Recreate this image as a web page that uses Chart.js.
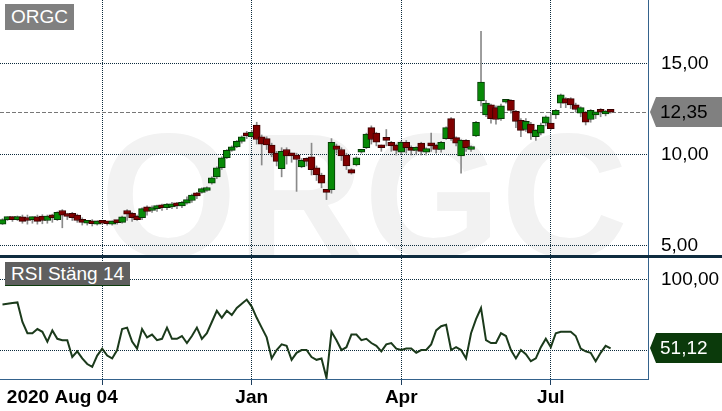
<!DOCTYPE html>
<html>
<head>
<meta charset="utf-8">
<script src="https://cdn.jsdelivr.net/npm/chart.js@4.4.1/dist/chart.umd.min.js"></script>
<style>
  body { margin: 0; background: #fff; font-family: "Liberation Sans", Arial, sans-serif; }
  #wrap { position: relative; width: 722px; height: 411px; overflow: hidden; }
  #top { position: absolute; left: 0; top: 0; width: 722px; height: 255px; border-bottom: 3px solid #0e2c3f; }
  #bot { position: absolute; left: 0; top: 258px; width: 722px; height: 153px; }
  .box { position: absolute; color: #fff; font-size: 19px; line-height: 26px; padding: 0 6px; white-space: nowrap; }
</style>
</head>
<body>
<div id="wrap">
  <div id="top"><canvas id="price" width="722" height="255"></canvas></div>
  <div id="bot"><canvas id="rsi" width="722" height="153"></canvas></div>
  <div class="box" style="left:5px;top:4px;background:#808080;">ORGC</div>
  <div class="box" style="left:5px;top:262px;line-height:23px;background:#5f5f5f;border-bottom:1px solid #0b3b0b;">RSI Stäng 14</div>
</div>
<script>
// one slot ~ two trading days
const slots = Array.from({length: 130}, (_, i) => i);

const open = [
  6.20,6.45,6.55,6.45,6.60,6.55,6.45,6.60,6.65,6.40,
  6.68,6.45,6.95,6.75,6.80,6.70,6.45,6.25,6.35,6.20,
  6.35,6.33,6.20,6.35,6.30,6.95,6.80,6.65,6.55,7.15,
  6.95,7.05,7.25,7.10,7.15,7.35,7.20,7.35,7.50,7.90,
  7.95,8.05,8.45,8.80,9.30,9.85,10.25,10.45,10.75,11.20,
  11.00,11.65,11.00,10.90,10.55,10.10,9.25,10.30,10.05,10.00,
  9.35,9.80,9.90,9.30,8.90,8.05,8.10,10.50,10.30,10.00,
  9.20,9.45,10.15,10.40,11.50,11.20,10.50,10.90,10.70,10.55,
  10.15,10.70,10.35,10.25,10.65,10.15,10.60,10.55,10.30,10.90,
  12.00,10.95,9.95,10.80,10.30,11.05,12.97,12.20,12.75,12.60,
  12.00,12.90,13.00,12.40,11.90,11.40,11.70,11.00,11.20,11.75,
  11.75,12.20,12.85,13.10,13.10,12.75,12.30,12.35,11.95,12.20,
  12.50,12.25,12.42
];
const high = [
  6.50,6.60,6.62,6.65,6.70,6.70,6.60,6.70,6.72,6.70,
  6.75,6.88,7.00,6.80,6.85,6.75,6.55,6.40,6.45,6.40,
  6.40,6.35,6.40,6.40,6.65,7.00,6.85,6.70,7.10,7.20,
  7.20,7.25,7.30,7.35,7.40,7.40,7.45,7.70,7.85,7.95,
  8.20,8.25,8.80,9.35,9.90,10.30,10.50,10.80,11.05,11.30,
  11.35,11.80,11.10,11.00,10.65,10.20,10.40,10.40,10.10,10.10,
  9.80,9.85,10.65,9.40,9.00,8.10,10.90,10.60,10.40,10.10,
  9.25,9.90,10.25,11.20,11.60,11.25,10.55,11.40,10.75,10.60,
  10.75,10.80,10.50,10.45,10.70,10.40,11.20,10.60,10.75,11.55,
  12.05,11.00,10.85,10.85,10.50,11.85,16.80,13.00,12.80,12.70,
  12.80,13.05,13.05,12.45,12.00,12.00,11.80,11.40,11.75,12.15,
  12.30,12.50,13.35,13.15,13.15,12.85,12.65,12.40,12.50,12.35,
  12.55,12.45,12.45
];
const low = [
  6.18,6.40,6.35,6.40,6.25,6.20,6.25,6.20,6.22,6.25,
  6.30,6.40,6.00,6.45,6.40,6.30,6.15,6.15,6.10,6.15,
  6.20,6.15,6.15,6.20,6.25,6.40,6.35,6.40,6.45,6.70,
  6.85,6.90,6.95,7.00,7.05,7.05,7.10,7.30,7.40,7.60,
  7.90,8.00,8.40,8.70,9.20,9.80,10.20,10.40,10.65,10.90,
  10.95,10.60,9.45,10.30,9.90,9.40,8.80,9.50,9.60,8.00,
  9.30,9.40,8.90,8.60,8.20,7.55,7.90,10.10,9.70,9.20,
  8.95,9.40,10.10,10.35,10.60,10.50,10.20,10.50,10.20,10.00,
  10.05,10.10,10.00,10.05,10.00,10.00,10.20,10.10,10.15,10.85,
  10.80,10.50,9.00,10.20,10.20,11.00,12.70,12.10,11.75,11.70,
  11.90,12.85,12.30,11.50,11.00,11.30,10.85,10.80,11.10,11.60,
  11.40,12.00,12.60,12.60,12.55,12.35,12.10,11.65,11.80,12.00,
  12.10,12.15,12.30
];
const close = [
  6.45,6.55,6.45,6.55,6.35,6.40,6.55,6.35,6.40,6.65,
  6.55,6.85,6.70,6.62,6.55,6.40,6.30,6.35,6.22,6.35,
  6.25,6.22,6.32,6.28,6.60,6.75,6.55,6.45,7.05,6.90,
  7.10,7.20,7.10,7.30,7.30,7.20,7.40,7.55,7.80,7.75,
  8.15,8.20,8.75,9.30,9.85,10.25,10.45,10.75,11.00,11.05,
  11.25,10.85,10.60,10.55,10.10,9.65,10.20,9.95,9.95,9.75,
  9.70,9.65,9.20,8.90,8.45,7.95,10.70,10.30,9.95,9.40,
  9.00,9.85,10.20,11.15,10.85,10.70,10.40,10.80,10.50,10.25,
  10.70,10.40,10.25,10.30,10.20,10.35,10.50,10.30,10.70,11.50,
  10.90,10.65,10.80,10.40,10.45,11.80,14.00,12.85,12.00,11.95,
  12.70,13.00,12.45,11.85,11.35,11.85,11.20,11.35,11.65,12.10,
  11.45,12.45,13.30,12.85,12.75,12.50,12.60,11.80,12.45,12.30,
  12.35,12.40,12.35
];
const rsi = [
  82.5,83,83.5,84,70,62,62,65,63,56,
  64,58,57,57,45,49,44,40,38,46,
  51,46,44,50,65,66,56,51,65,59,
  61,57,58,66,58,58,60,55,60,66,
  58,62,70,78,73,78,75,80,83,86,
  81,73,66,59,44,50,54,53,43,48,
  50,50,45,43,44,30,63,57,50,52,
  61,61,57,58,55,53,49,54,55,51,
  50,51,51,48,50,50,54,64,67,68,
  50,52,50,44,62,72,80,57,55,55,
  62,60,50,44,50,47,42,44,52,58,
  52,62,63,63,63,60,51,49,48,42,
  48,53,51.12
];

const priceTicks = [5, 10, 15];
const rsiTicks = [50, 100];
const gridIdx = [20, 50, 80, 110];
const labelIdx = [12, 50, 80, 110];
const labelText = ['2020 Aug 04', 'Jan', 'Apr', 'Jul'];

const UP = '#078a07', UP_EDGE = '#063806';
const DN = '#800000', DN_EDGE = '#3a0000';
const WICK = '#8a8a8a', GRID = '#0c2b3d', FRAME = '#34628c';
const FONT = '"Liberation Sans", Arial, sans-serif';

Chart.defaults.font.family = FONT;

const fmt = v => v.toFixed(2).replace('.', ',');
const isUp = i => close[i] >= open[i];

function xAxis(withLabels, height) {
  const idx = withLabels ? [...new Set([...labelIdx, ...gridIdx])].sort((a, b) => a - b) : gridIdx;
  return {
    type: 'category',
    offset: true,
    afterBuildTicks: s => { s.ticks = idx.map(v => ({value: v})); },
    afterFit: s => { s.height = height; s.paddingLeft = 0; s.paddingRight = 0; },
    grid: {
      offset: false,
      color: c => gridIdx.includes(c.tick && c.tick.value) ? GRID : 'rgba(0,0,0,0)',
      tickColor: c => gridIdx.includes(c.tick && c.tick.value) ? '#1d3f5f' : 'rgba(0,0,0,0)',
      lineWidth: 1,
      drawTicks: withLabels,
      tickLength: 6,
      tickBorderDash: []
    },
    border: withLabels ? {display: true, color: FRAME, width: 1, dash: [1, 1]} : {display: false, dash: [1, 1]},
    ticks: {
      display: withLabels,
      autoSkip: false,
      maxRotation: 0,
      padding: 1,
      color: '#000',
      font: {size: 19, weight: 'bold'},
      callback: v => { const k = labelIdx.indexOf(v); return k >= 0 ? labelText[k] : ''; }
    }
  };
}

function yAxis(min, max, ticks, label) {
  return {
    position: 'right',
    min, max,
    afterBuildTicks: s => { s.ticks = ticks.map(v => ({value: v})); },
    afterFit: s => { s.width = 74; s.paddingTop = 0; s.paddingBottom = 0; },
    grid: {color: GRID, lineWidth: 1, drawTicks: false},
    border: {display: true, color: FRAME, width: 1, dash: [1, 1]},
    ticks: {padding: 13, color: '#000', font: {size: 19}, callback: label}
  };
}

const watermark = {
  id: 'watermark',
  beforeDraw(c) {
    const ctx = c.ctx;
    ctx.save();
    ctx.font = 'bold 176px ' + FONT;
    ctx.fillStyle = '#f2f2f2';
    ctx.textAlign = 'center';
    ctx.fillText('ORGC', 364, 256);
    ctx.restore();
  }
};

const lastLine = {
  id: 'lastLine',
  beforeDatasetsDraw(c) {
    const y = Math.round(c.scales.y.getPixelForValue(close[close.length - 1])) + 0.5;
    const ctx = c.ctx;
    ctx.save();
    ctx.strokeStyle = '#777';
    ctx.lineWidth = 1;
    ctx.setLineDash([4, 2]);
    ctx.beginPath();
    ctx.moveTo(c.chartArea.left, y);
    ctx.lineTo(c.chartArea.right, y);
    ctx.stroke();
    ctx.restore();
  }
};

function valueTag(id, value, fill, color) {
  return {
    id,
    afterDraw(c) {
      const ctx = c.ctx;
      const y = Math.round(c.scales.y.getPixelForValue(value));
      const x0 = c.chartArea.right + 2;
      ctx.save();
      ctx.fillStyle = fill;
      ctx.beginPath();
      ctx.moveTo(x0, y);
      ctx.lineTo(x0 + 6, y - 15);
      ctx.lineTo(722, y - 15);
      ctx.lineTo(722, y + 15);
      ctx.lineTo(x0 + 6, y + 15);
      ctx.closePath();
      ctx.fill();
      ctx.fillStyle = color;
      ctx.font = '19px ' + FONT;
      ctx.textBaseline = 'middle';
      ctx.fillText(fmt(value), x0 + 10, y + 1);
      ctx.restore();
    }
  };
}

new Chart(document.getElementById('price'), {
  type: 'bar',
  data: {
    labels: slots,
    datasets: [
      {
        data: open.map((o, i) => [o, close[i]]),
        backgroundColor: c => isUp(c.dataIndex) ? UP : DN,
        borderColor: c => isUp(c.dataIndex) ? UP_EDGE : DN_EDGE,
        borderWidth: 1,
        borderSkipped: false,
        barThickness: 7,
        minBarLength: 3,
        grouped: false,
        order: 0
      },
      {
        data: low.map((l, i) => [l, high[i]]),
        backgroundColor: WICK,
        barThickness: 1,
        grouped: false,
        order: 1
      }
    ]
  },
  options: {
    responsive: false,
    animation: false,
    layout: {padding: 0},
    plugins: {legend: {display: false}, tooltip: {enabled: false}},
    scales: {
      x: xAxis(false, 0),
      y: yAxis(4.505, 18.516, priceTicks, v => fmt(v))
    }
  },
  plugins: [watermark, lastLine, valueTag('lastPrice', close[close.length - 1], '#808080', '#000')]
});

new Chart(document.getElementById('rsi'), {
  type: 'line',
  data: {
    labels: slots,
    datasets: [{
      data: rsi,
      borderColor: '#1b3a1b',
      borderWidth: 2,
      pointRadius: 0,
      tension: 0
    }]
  },
  options: {
    responsive: false,
    animation: false,
    layout: {padding: 0},
    plugins: {legend: {display: false}, tooltip: {enabled: false}},
    scales: {
      x: xAxis(true, 32),
      y: yAxis(29.3, 115.7, rsiTicks, v => v === 100 ? fmt(v) : '')
    }
  },
  plugins: [valueTag('lastRsi', rsi[rsi.length - 1], '#0b3a0b', '#fff')]
});
</script>
</body>
</html>
